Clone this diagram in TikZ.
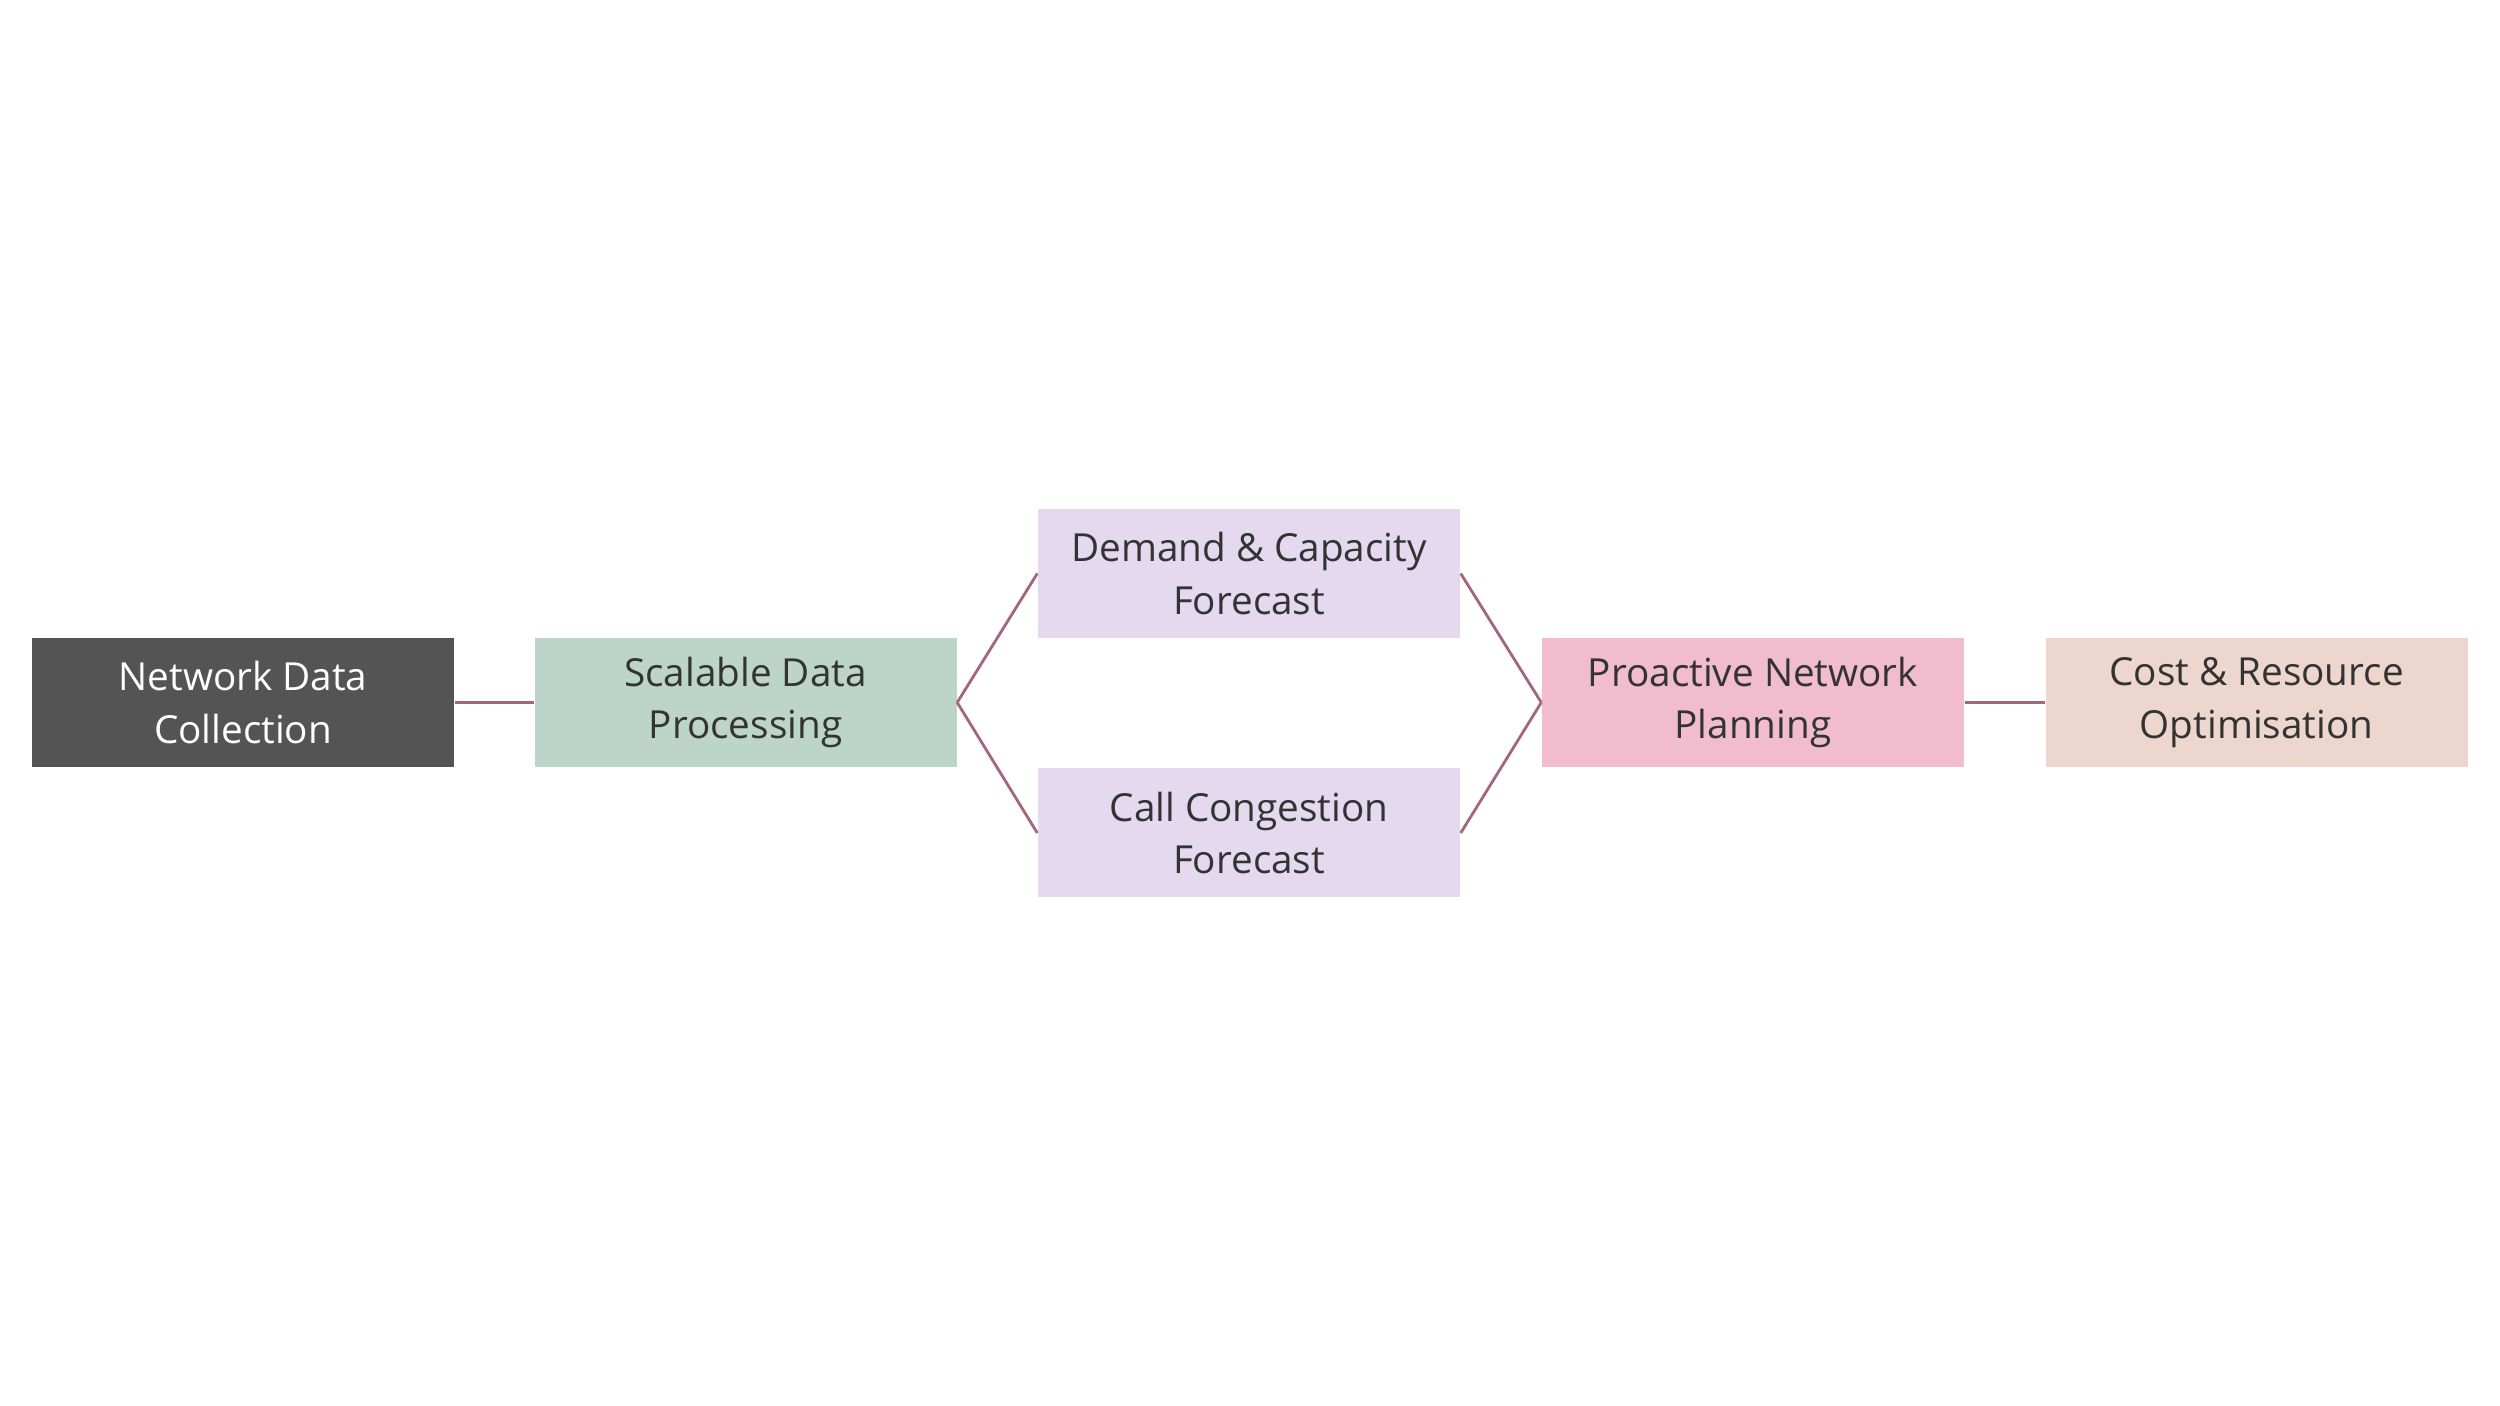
\documentclass[tikz,border=0pt]{standalone}
\usepackage{fontspec}
\setmainfont{Open Sans}
\usetikzlibrary{positioning}
\definecolor{darkbox}{HTML}{545454}
\definecolor{sagebox}{HTML}{BDD4CB}
\definecolor{lilacbox}{HTML}{E4D9EE}
\definecolor{pinkbox}{HTML}{F0BCCE}
\definecolor{peachbox}{HTML}{EDD6CD}
\definecolor{linkcol}{HTML}{A3667F}
\definecolor{inktext}{HTML}{333333}

\begin{document}
\begin{tikzpicture}[
    stage/.style={rectangle, minimum width=4.22cm, minimum height=1.29cm, inner sep=0pt,
                  align=center, text=inktext, font=\fontsize{11}{15}\selectfont},
    link/.style={draw=linkcol, line width=0.8pt}
]
\useasboundingbox (0,0) rectangle (25,14.06);

% Stages, left to right
\node[stage, fill=darkbox, text=white] (collect) at (2.43,7.035) {Network Data\\Collection};
\node[stage, fill=sagebox] (process) at (7.455,7.035) {Scalable Data\\Processing};
\node[stage, fill=lilacbox] (demand) at (12.49,8.325) {Demand \& Capacity\\Forecast};
\node[stage, fill=lilacbox] (congest) at (12.49,5.73) {Call Congestion\\Forecast};
\node[stage, fill=pinkbox] (plan) at (17.53,7.035) {Proactive Network\\Planning};
\node[stage, fill=peachbox] (optim) at (22.565,7.035) {Cost \& Resource\\Optimisation};

% Connectors
\draw[link] (collect.east) -- (process.west);
\draw[link] (process.east) -- (demand.west);
\draw[link] (process.east) -- (congest.west);
\draw[link] (demand.east) -- (plan.west);
\draw[link] (congest.east) -- (plan.west);
\draw[link] (plan.east) -- (optim.west);

\end{tikzpicture}
\end{document}
